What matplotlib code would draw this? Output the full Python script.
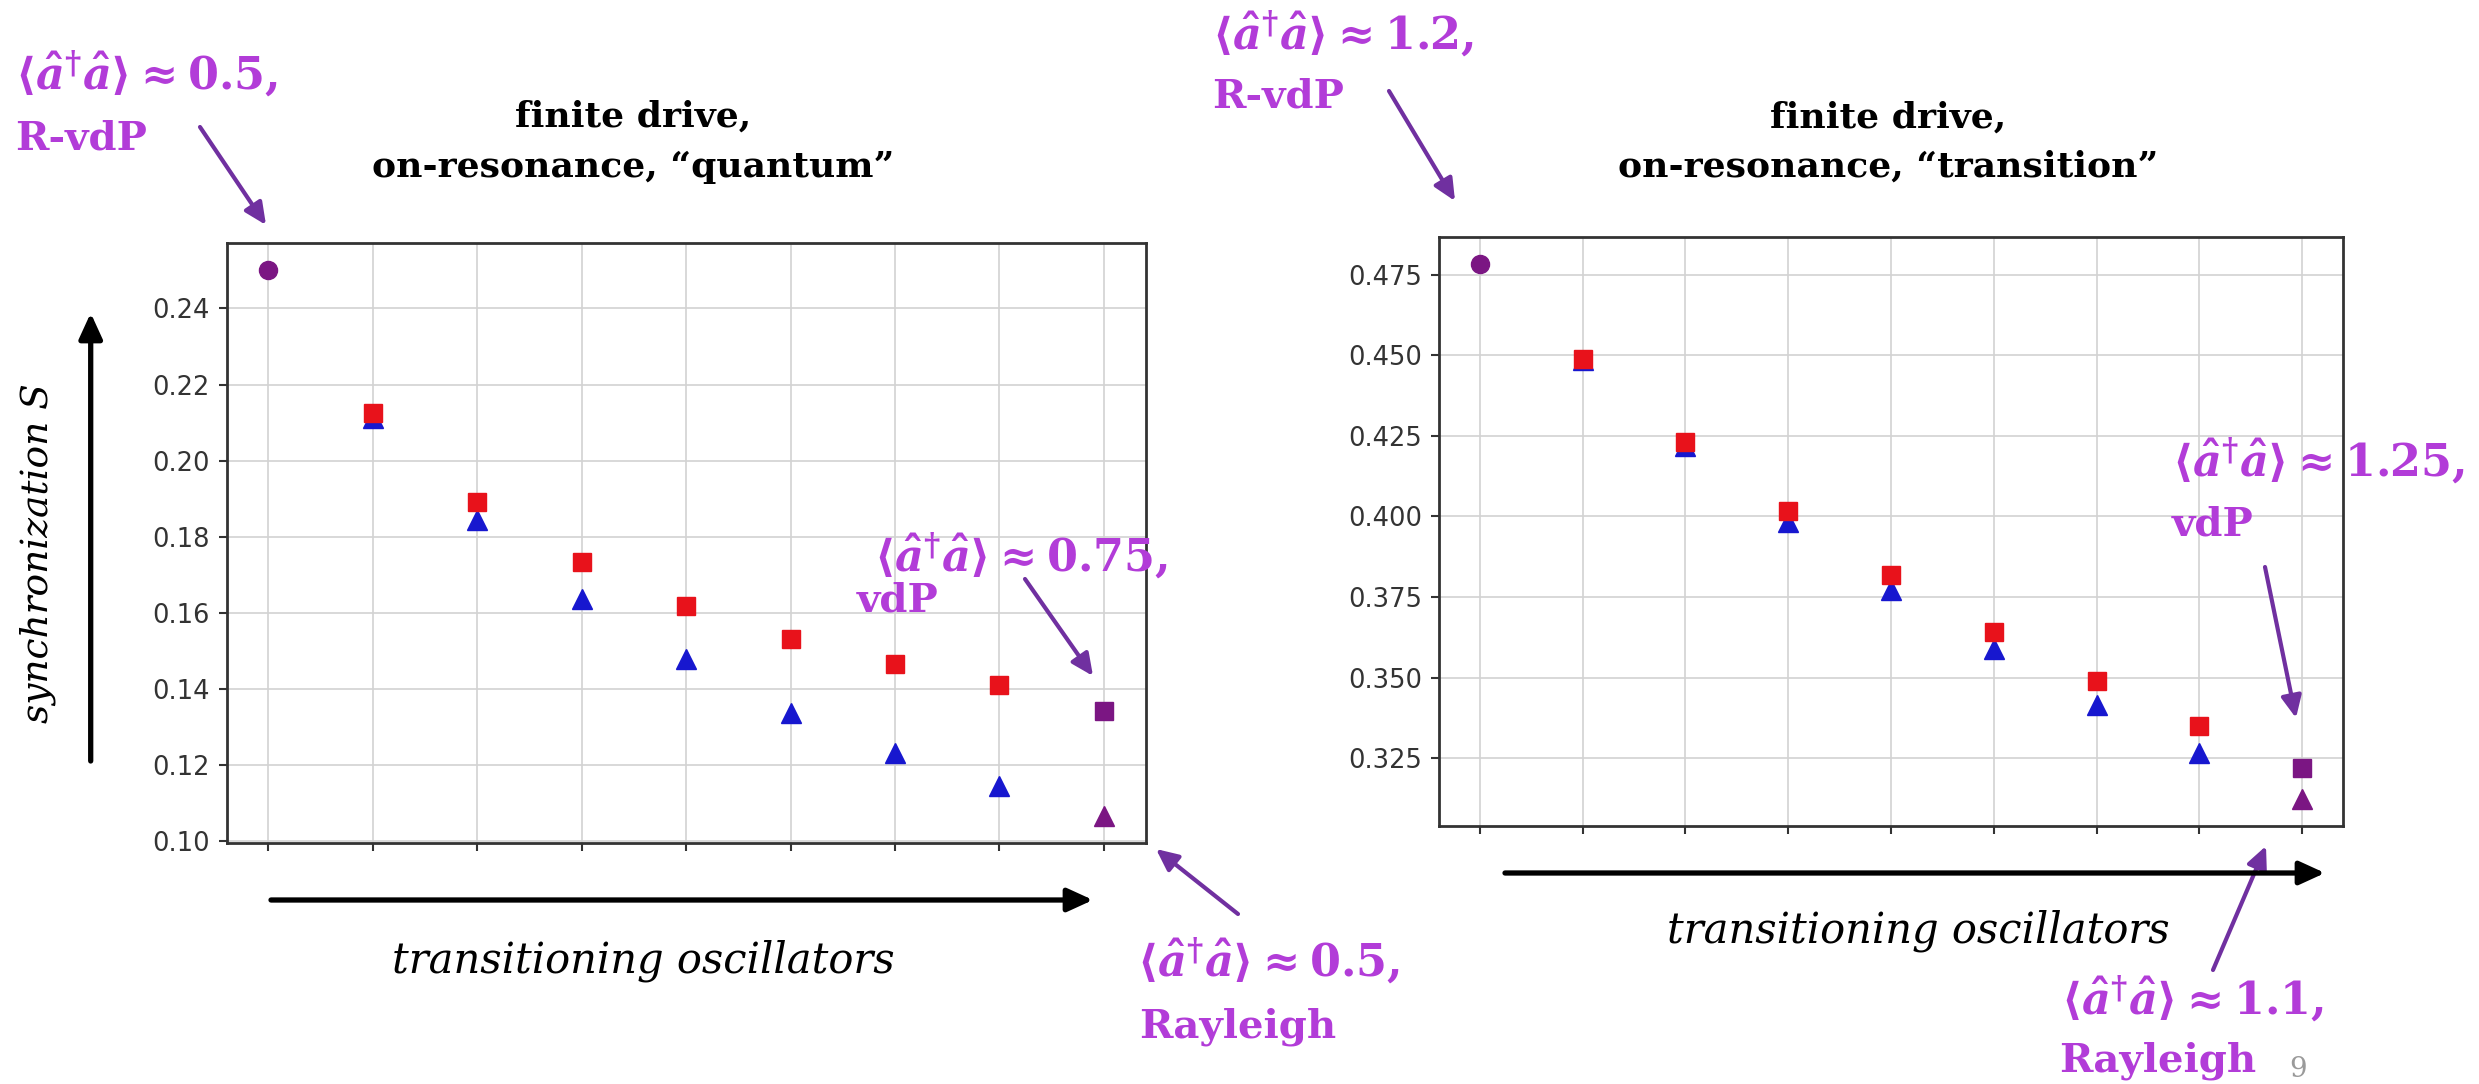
import numpy as np
import matplotlib.pyplot as plt
from matplotlib.patches import FancyArrowPatch
from matplotlib.ticker import FormatStrFormatter

W, H = 2479, 1084

plt.rcParams['mathtext.fontset'] = 'custom'
plt.rcParams['mathtext.rm'] = 'DejaVu Serif:bold'
plt.rcParams['mathtext.it'] = 'DejaVu Serif:italic:bold'
plt.rcParams['mathtext.bf'] = 'DejaVu Serif:bold'
plt.rcParams['mathtext.fallback'] = 'stix'

# oscillator index: 0 = R-vdP, 8 = vdP / Rayleigh, 1..7 transitioning
inner_osc = np.arange(1, 8)
first_osc = 0
last_osc = 8

# "quantum" regime
q_rvdp = 0.2501
q_square = [0.2126, 0.1892, 0.1734, 0.1618, 0.1532, 0.1466, 0.1409]
q_triangle = [0.2112, 0.1844, 0.1637, 0.1478, 0.1338, 0.1231, 0.1145]
q_vdp = 0.1343
q_rayleigh = 0.1066
q_yticks = [0.10, 0.12, 0.14, 0.16, 0.18, 0.20, 0.22, 0.24]

# "transition" regime
t_rvdp = 0.4783
t_square = [0.4490, 0.4231, 0.4018, 0.3819, 0.3642, 0.3491, 0.3349]
t_triangle = [0.4485, 0.4220, 0.3982, 0.3772, 0.3588, 0.3416, 0.3267]
t_vdp = 0.3220
t_rayleigh = 0.3123
t_yticks = [0.325, 0.350, 0.375, 0.400, 0.425, 0.450, 0.475]

RED = '#e8121b'
BLUE = '#1717cf'
PURPLE = '#7b1683'
LABEL = '#b23cd8'
ARROW = '#7030a0'


def fx(x):
    return x / W


def fy(y):
    return 1 - y / H


def panel(ax, rvdp, square, triangle, vdp, rayleigh, yticks, fmt):
    ax.plot(inner_osc, triangle, '^', color=BLUE, ms=14, zorder=3)
    ax.plot(inner_osc, square, 's', color=RED, ms=13.5, zorder=4)
    ax.plot([first_osc], [rvdp], 'o', color=PURPLE, ms=13, zorder=4)
    ax.plot([last_osc], [rayleigh], '^', color=PURPLE, ms=14, zorder=3)
    ax.plot([last_osc], [vdp], 's', color=PURPLE, ms=13.5, zorder=4)
    ax.set_xticks(range(first_osc, last_osc + 1))
    ax.set_xticklabels([])
    ax.set_yticks(yticks)
    ax.yaxis.set_major_formatter(FormatStrFormatter(fmt))
    ax.grid(True, color='#d2d2d2', lw=1.2)
    ax.set_axisbelow(True)
    ax.tick_params(length=6, width=1.5, color='#333333', labelsize=18.5,
                   labelcolor='#333333', pad=6)
    for s in ax.spines.values():
        s.set_linewidth(2)
        s.set_color('#333333')


fig = plt.figure(figsize=(W / 100, H / 100), dpi=100)
ax1 = fig.add_axes([fx(226.7), fy(843.3), (1145.7 - 226.7) / W, (843.3 - 242.7) / H])
ax2 = fig.add_axes([fx(1438.7), fy(826), (2343.3 - 1438.7) / W, (826 - 237.3) / H])

panel(ax1, q_rvdp, q_square, q_triangle, q_vdp, q_rayleigh, q_yticks, '%.2f')
panel(ax2, t_rvdp, t_square, t_triangle, t_vdp, t_rayleigh, t_yticks, '%.3f')


def label(x, y, s, **kw):
    fig.text(fx(x), fy(y), s, va='baseline', **kw)


def arrow(x0, y0, x1, y1, color=ARROW, lw=3, style='-|>,head_length=0.6,head_width=0.28', ms=22):
    fig.add_artist(FancyArrowPatch((fx(x0), fy(y0)), (fx(x1), fy(y1)),
                                   transform=fig.transFigure, arrowstyle=style,
                                   mutation_scale=ms, lw=lw, color=color,
                                   shrinkA=0, shrinkB=0))


title_kw = dict(ha='center', fontsize=26, fontweight='bold', family='DejaVu Serif')
label(633, 127, 'finite drive,', **title_kw)
label(633, 177, 'on-resonance, \u201cquantum\u201d', **title_kw)
label(1888, 128, 'finite drive,', **title_kw)
label(1888, 177, 'on-resonance, \u201ctransition\u201d', **title_kw)

occ = r'$\langle\hat{a}^{\dagger}\hat{a}\rangle \approx %s,$'
math_kw = dict(ha='left', fontsize=32, color=LABEL, fontweight='bold', family='DejaVu Serif')
word_kw = dict(ha='left', fontsize=29, color=LABEL, fontweight='bold', family='DejaVu Serif')

# quantum panel annotations
label(15, 90, occ % '0.5', **math_kw)
label(15, 150, 'R-vdP', **word_kw)
arrow(200, 127, 266, 225)
label(874, 572, occ % '0.75', **math_kw)
label(857, 612, 'vdP', **word_kw)
arrow(1025, 579, 1093, 676)
label(1137, 977, occ % '0.5', **math_kw)
label(1139, 1038, 'Rayleigh', **word_kw)
arrow(1238, 914, 1156, 849)

# transition panel annotations
label(1212, 50, occ % '1.2', **math_kw)
label(1212, 107, 'R-vdP', **word_kw)
arrow(1389, 91, 1455, 201)
label(2172, 477, occ % '1.25', **math_kw)
label(2172, 535, 'vdP', **word_kw)
arrow(2265, 567, 2296, 718)
label(2061, 1015, occ % '1.1', **math_kw)
label(2059, 1072, 'Rayleigh', **word_kw)
arrow(2213, 970, 2266, 846)

# axis direction arrows and captions
black_style = '-|>,head_length=0.7,head_width=0.32'
arrow(271, 900, 1093, 900, color='black', lw=3.8, style=black_style)
arrow(1505, 873, 2325, 873, color='black', lw=3.8, style=black_style)
arrow(90.7, 761, 90.7, 313, color='black', lw=3.8, style=black_style)

cap_kw = dict(fontsize=30, style='italic', family='DejaVu Serif', color='black')
label(643, 972, 'transitioning oscillators', ha='center', **cap_kw)
label(1918, 943, 'transitioning oscillators', ha='center', **cap_kw)
fig.text(fx(38), fy(553), 'synchronization S', rotation=90,
         ha='center', va='center', fontsize=27, style='italic', family='DejaVu Serif')

label(2298, 1077, '9', ha='center', fontsize=20, color='#9a9a9a', family='DejaVu Serif')

fig.savefig('out.png', dpi=100)
